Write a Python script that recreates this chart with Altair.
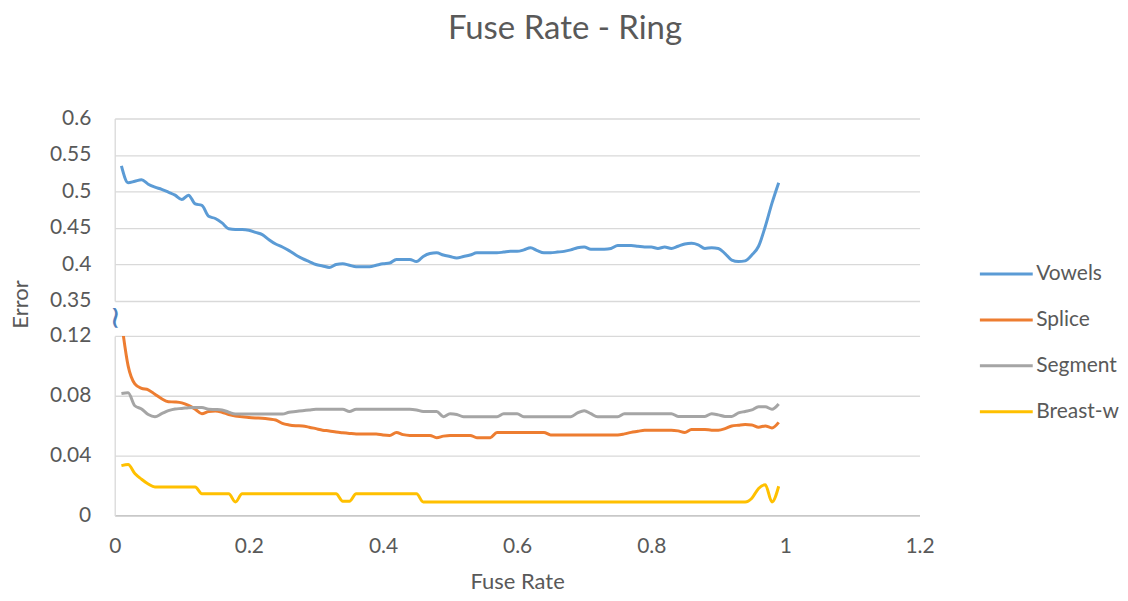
import altair as alt
import pandas as pd

FONT = "Lato"
TXT = "#595959"
GRID = "#D9D9D9"

fuse = [round(i / 100, 2) for i in range(1, 100)]

vowels = [
    .535, .512, .514, .516, .510, .506, .503, .499, .495, .489,
    .495, .483, .481, .466, .463, .457, .449, .448, .448, .447,
    .444, .441, .434, .428, .424, .419, .413, .408, .404, .400,
    .398, .396, .400, .401, .399, .397, .397, .397, .399, .401,
    .402, .407, .407, .407, .404, .411, .415, .416, .413, .411,
    .409, .411, .413, .416, .416, .416, .416, .417, .418, .418,
    .420, .423, .419, .416, .416, .417, .418, .420, .423, .424,
    .421, .421, .421, .422, .426, .426, .426, .425, .424, .424,
    .422, .424, .422, .425, .428, .429, .427, .422, .423, .422,
    .415, .406, .404, .405, .413, .425, .452, .484, .512,
]
splice = [
    .130, .100, .088, .085, .084, .081, .078, .076, .0758, .0752,
    .0735, .071, .068, .0695, .0698, .069, .0675, .0665, .066, .0655,
    .0652, .065, .0645, .0638, .0615, .0605, .060, .0598, .059, .058,
    .057, .0565, .0557, .0552, .0548, .0545, .0545, .0545, .0545, .0538,
    .0535, .0555, .054, .0535, .0535, .0535, .0535, .052, .053, .0535,
    .0535, .0535, .0535, .052, .052, .052, .0555, .0555, .0555, .0555,
    .0555, .0555, .0555, .0555, .0538, .0538, .0538, .0538, .0538, .0538,
    .0538, .0538, .0538, .0538, .0538, .0545, .0555, .0562, .057, .057,
    .057, .057, .057, .0565, .0555, .0575, .0575, .0575, .057, .057,
    .058, .0598, .0603, .0607, .0605, .059, .0598, .0585, .0622,
]
segment = [
    .0815, .082, .0733, .0712, .0675, .066, .068, .070, .0712, .0715,
    .072, .0722, .0722, .071, .0708, .0705, .069, .0678, .0678, .0678,
    .0678, .0678, .0678, .0678, .0678, .069, .0695, .070, .0705, .071,
    .071, .071, .071, .071, .0695, .071, .071, .071, .071, .071,
    .071, .071, .071, .071, .0705, .0695, .0695, .0695, .066, .068,
    .0675, .066, .066, .066, .066, .066, .066, .068, .068, .068,
    .066, .066, .066, .066, .066, .066, .066, .066, .0685, .070,
    .068, .066, .066, .066, .066, .068, .068, .068, .068, .068,
    .068, .068, .068, .0662, .0662, .0662, .0662, .0662, .068, .0672,
    .0662, .0662, .0685, .0695, .0705, .0727, .0727, .071, .0745,
]
breast = [
    .0333, .034, .028, .0242, .021, .019, .019, .019, .019, .019,
    .019, .019, .0145, .0145, .0145, .0145, .0145, .009, .0145, .0145,
    .0145, .0145, .0145, .0145, .0145, .0145, .0145, .0145, .0145, .0145,
    .0145, .0145, .0145, .0095, .0095, .0145, .0145, .0145, .0145, .0145,
    .0145, .0145, .0145, .0145, .0145, .009, .009, .009, .009, .009,
    .009, .009, .009, .009, .009, .009, .009, .009, .009, .009,
    .009, .009, .009, .009, .009, .009, .009, .009, .009, .009,
    .009, .009, .009, .009, .009, .009, .009, .009, .009, .009,
    .009, .009, .009, .009, .009, .009, .009, .009, .009, .009,
    .009, .009, .009, .009, .0115, .018, .0205, .009, .0195,
]

names = ["Vowels", "Splice", "Segment", "Breast-w"]
colors = ["#5B9BD5", "#ED7D31", "#A5A5A5", "#FFC000"]

rows = []
for name, vals in zip(names, [vowels, splice, segment, breast]):
    for x, v in zip(fuse, vals):
        rows.append({"Fuse Rate": x, "Error": v, "Series": name})
df = pd.DataFrame(rows)

upper_ticks = [0.35, 0.4, 0.45, 0.5, 0.55, 0.6]
lower_ticks = [0, 0.04, 0.08, 0.12]
x_ticks = [0, 0.2, 0.4, 0.6, 0.8, 1, 1.2]

color = alt.Color(
    "Series:N",
    scale=alt.Scale(domain=names, range=colors),
    legend=alt.Legend(
        title=None, orient="none", legendX=866, legendY=128,
        symbolType="stroke", symbolSize=2809, symbolStrokeWidth=3,
        labelFontSize=21, labelColor=TXT, labelFont=FONT,
        rowPadding=8, labelOffset=2,
    ),
)
xscale = alt.Scale(domain=[0, 1.2], nice=False)

yaxis_common = dict(
    format=".2~f", labelFontSize=21, labelColor=TXT, labelFont=FONT,
    labelPadding=24, ticks=False, tickSize=0, domainColor=GRID,
    gridColor=GRID, gridWidth=1.3, domainWidth=1.3,
)

top = alt.Chart(df).transform_filter(
    alt.datum.Series == "Vowels"
).mark_line(strokeWidth=3, interpolate="monotone", clip=True).encode(
    x=alt.X("Fuse Rate:Q", scale=xscale, axis=None),
    y=alt.Y("Error:Q", scale=alt.Scale(domain=[0.35, 0.6], nice=False, zero=False),
            axis=alt.Axis(values=upper_ticks, title=None, **yaxis_common)),
    color=color,
).properties(width=807, height=183)

lower_lines = alt.Chart(df).transform_filter(
    alt.datum.Series != "Vowels"
).mark_line(strokeWidth=3, interpolate="monotone", clip=True).encode(
    x=alt.X("Fuse Rate:Q", scale=xscale,
            axis=alt.Axis(values=x_ticks, format=".1~f", grid=False, ticks=False, tickSize=0,
                          labelFlush=False,
                          labelFontSize=21, labelColor=TXT, labelFont=FONT, labelPadding=20,
                          domainColor="#BFBFBF", domainWidth=1.3,
                          title="Fuse Rate", titleFontSize=22, titleColor=TXT, titleFont=FONT,
                          titleFontWeight="normal", titlePadding=15)),
    y=alt.Y("Error:Q", scale=alt.Scale(domain=[0, 0.12], nice=False),
            axis=alt.Axis(values=lower_ticks, title="Error", titleFontSize=22, titleColor=TXT,
                          titleFont=FONT, titleFontWeight="normal", titleX=-94, titleY=-32,
                          titleBaseline="middle", **yaxis_common)),
    color=color,
)

brk = alt.Chart(pd.DataFrame({"t": ["~"]})).mark_text(
    angle=90, fontSize=32, color="#4F81BD", font="DejaVu Sans"
).encode(text="t:N", x=alt.value(0), y=alt.value(-18))

bottom = alt.layer(lower_lines, brk).properties(width=807, height=180)

chart = alt.vconcat(top, bottom, spacing=35, bounds="flush").resolve_scale(
    color="shared"
).properties(
    title=alt.TitleParams("Fuse Rate - Ring", fontSize=33, font=FONT, color=TXT,
                          fontWeight="normal", anchor="middle", offset=62),
    padding={"left": 2, "top": 4, "right": 0, "bottom": 0},
).configure_view(stroke=None)

chart.save("out.html", embed_options={"renderer": "svg", "actions": False})
